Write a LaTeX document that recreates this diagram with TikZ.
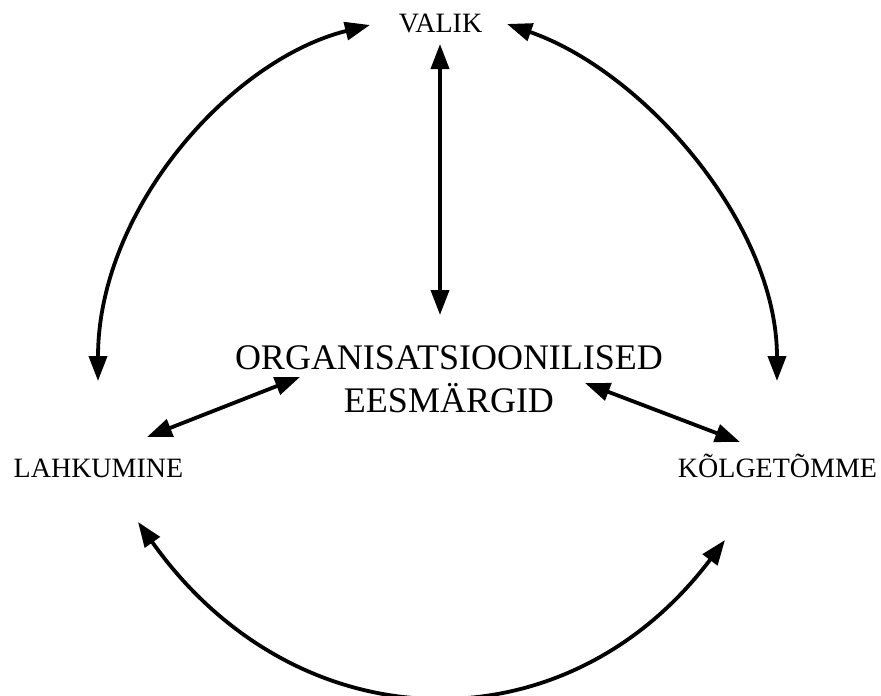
\documentclass[tikz,border=0pt]{standalone}
\usepackage{fontspec}
\setmainfont{Liberation Serif}
\usetikzlibrary{arrows.meta}
\tikzset{
  tip/.tip={Triangle[length=25pt,width=18pt]},
  conn/.style={line width=3.8pt,draw=black,{tip}-{tip}},
  lbl/.style={inner sep=0pt,font=\fontsize{28}{32}\selectfont,anchor=base},
  ctr/.style={inner sep=0pt,align=center,font=\fontsize{36}{43}\selectfont,anchor=base}
}
\begin{document}
\begin{tikzpicture}[x=1pt,y=-1pt]
\useasboundingbox (0,0) rectangle (881,696);
% labels
\node[lbl] (valik) at (440.5,32) {VALIK};
\node[lbl] (lahk) at (98.5,477) {LAHKUMINE};
\node[lbl] (kolg) at (777.5,477) {KÕLGETÕMME};
\node[ctr] (org) at (449,412) {ORGANISATSIOONILISED\\EESMÄRGID};
% arrow end points
\coordinate (vt) at (440,44);
\coordinate (vb) at (440,315);
\coordinate (lo) at (147,437);
\coordinate (li) at (300,377);
\coordinate (ri) at (585,383);
\coordinate (ro) at (740,442);
\coordinate (tl1) at (98,381);
\coordinate (tl2) at (370,25);
\coordinate (tr1) at (777,381);
\coordinate (tr2) at (507,24);
\coordinate (b1) at (138,522);
\coordinate (b2) at (725,540);
% connectors
\draw[conn] (vt) -- (vb);
\draw[conn] (lo) -- (li);
\draw[conn] (ri) -- (ro);
\draw[conn] (tl1) .. controls (98,210) and (230,60) .. (tl2);
\draw[conn] (tr1) .. controls (777,225) and (645,72) .. (tr2);
\draw[conn] (b1) .. controls (296,745) and (565,752) .. (b2);
\end{tikzpicture}
\end{document}
